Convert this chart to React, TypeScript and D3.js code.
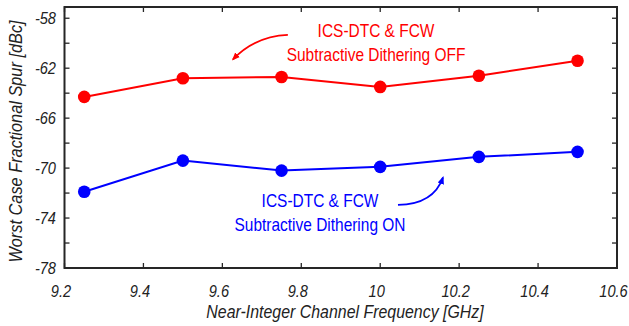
import React from "react";
import * as d3 from "d3";

const freqs = [9.25, 9.5, 9.75, 10.0, 10.25, 10.5];
const spurOff = [-64.3, -62.8, -62.7, -63.5, -62.6, -61.4];
const spurOn = [-71.9, -69.4, -70.2, -69.9, -69.1, -68.7];
const xTicks = [9.2, 9.4, 9.6, 9.8, 10, 10.2, 10.4, 10.6];
const yTicks = [-58, -62, -66, -70, -74, -78];
const yMinor = [-60, -64, -68, -72, -76];
const offLabel = ["ICS-DTC & FCW", "Subtractive Dithering OFF"];
const onLabel = ["ICS-DTC & FCW", "Subtractive Dithering ON"];

const W = 629;
const H = 326;
const FONT = "'Liberation Sans', Arial, sans-serif";
const SQUEEZE = 0.86; // the original uses a condensed face

// condensed text: horizontal squeeze around the anchor point
function T({ x, y, rotate = 0, size, italic, fill = "#222", anchor = "middle", children }: any) {
  return (
    <text
      transform={`translate(${x},${y}) rotate(${rotate}) scale(${SQUEEZE},1)`}
      textAnchor={anchor}
      fontSize={size}
      fontStyle={italic ? "italic" : "normal"}
      fill={fill}
    >
      {children}
    </text>
  );
}

export default function App() {
  const x = d3.scaleLinear().domain([9.2, 10.6]).range([64.5, 617]);
  const y = d3.scaleLinear().domain([-78, -57.1]).range([268, 7]);
  const [x0, x1] = x.range();
  const [y0, y1] = y.range();

  const line = d3
    .line<number>()
    .x((_, i) => x(freqs[i]))
    .y((d) => y(d));

  const axisColor = "#262626";
  const tickLen = 5;

  // curved annotation arrows, anchored in data space
  const redArrow = d3.path();
  redArrow.moveTo(x(9.766), y(-59.34));
  redArrow.quadraticCurveTo(x(9.683), y(-59.45), x(9.627), y(-61.3));
  const blueArrow = d3.path();
  blueArrow.moveTo(x(10.045), y(-72.95));
  blueArrow.quadraticCurveTo(x(10.135), y(-72.9), x(10.159), y(-70.75));

  return (
    <svg
      width={W}
      height={H}
      style={{ position: "absolute", left: 0, top: 0, background: "#fff" }}
      fontFamily={FONT}
    >
      <defs>
        <marker id="ahR" viewBox="0 0 10 10" refX="8" refY="5" markerWidth="4.5" markerHeight="4.5" orient="auto">
          <path d="M0,1 L10,5 L0,9 z" fill="#ff0000" />
        </marker>
        <marker id="ahB" viewBox="0 0 10 10" refX="8" refY="5" markerWidth="4.5" markerHeight="4.5" orient="auto">
          <path d="M0,1 L10,5 L0,9 z" fill="#0000ff" />
        </marker>
      </defs>

      {/* ticks on all four sides */}
      {[...yTicks, ...yMinor].map((t) => (
        <g key={"yt" + t} stroke={axisColor} strokeWidth={1.3}>
          <line x1={x0} x2={x0 + tickLen} y1={y(t)} y2={y(t)} />
          <line x1={x1} x2={x1 - tickLen} y1={y(t)} y2={y(t)} />
        </g>
      ))}
      {xTicks.map((t) => (
        <g key={"xt" + t} stroke={axisColor} strokeWidth={1.3}>
          <line x1={x(t)} x2={x(t)} y1={y0} y2={y0 - tickLen} />
          <line x1={x(t)} x2={x(t)} y1={y1} y2={y1 + tickLen} />
        </g>
      ))}
      <rect x={x0} y={y1} width={x1 - x0} height={y0 - y1} fill="none" stroke={axisColor} strokeWidth={2} />

      {/* tick labels */}
      {yTicks.map((t) => (
        <T key={"yl" + t} x={56} y={y(t) + 6} anchor="end" size={17} italic>
          {t}
        </T>
      ))}
      {xTicks.map((t) => (
        <T key={"xl" + t} x={x(t) - 3.5} y={297} size={17} italic>
          {t}
        </T>
      ))}

      {/* axis titles */}
      <T x={345} y={318} size={18.5} italic>
        Near-Integer Channel Frequency [GHz]
      </T>
      <T x={22} y={(y0 + y1) / 2 + 4} rotate={-90} size={19} italic>
        Worst Case Fractional Spur [dBc]
      </T>

      {/* series */}
      <path d={line(spurOff) ?? ""} fill="none" stroke="#ff0000" strokeWidth={2} />
      {spurOff.map((v, i) => (
        <circle key={"r" + i} cx={x(freqs[i])} cy={y(v)} r={6.3} fill="#ff0000" />
      ))}
      <path d={line(spurOn) ?? ""} fill="none" stroke="#0000ff" strokeWidth={2} />
      {spurOn.map((v, i) => (
        <circle key={"b" + i} cx={x(freqs[i])} cy={y(v)} r={6.3} fill="#0000ff" />
      ))}

      {/* annotations */}
      {offLabel.map((s, i) => (
        <T key={"ol" + i} x={376} y={37 + i * 24} size={18} fill="#ff0000">
          {s}
        </T>
      ))}
      {onLabel.map((s, i) => (
        <T key={"nl" + i} x={320} y={207 + i * 24} size={18} fill="#0000ff">
          {s}
        </T>
      ))}
      <path d={redArrow.toString()} fill="none" stroke="#ff0000" strokeWidth={1.8} markerEnd="url(#ahR)" />
      <path d={blueArrow.toString()} fill="none" stroke="#0000ff" strokeWidth={1.8} markerEnd="url(#ahB)" />
    </svg>
  );
}
